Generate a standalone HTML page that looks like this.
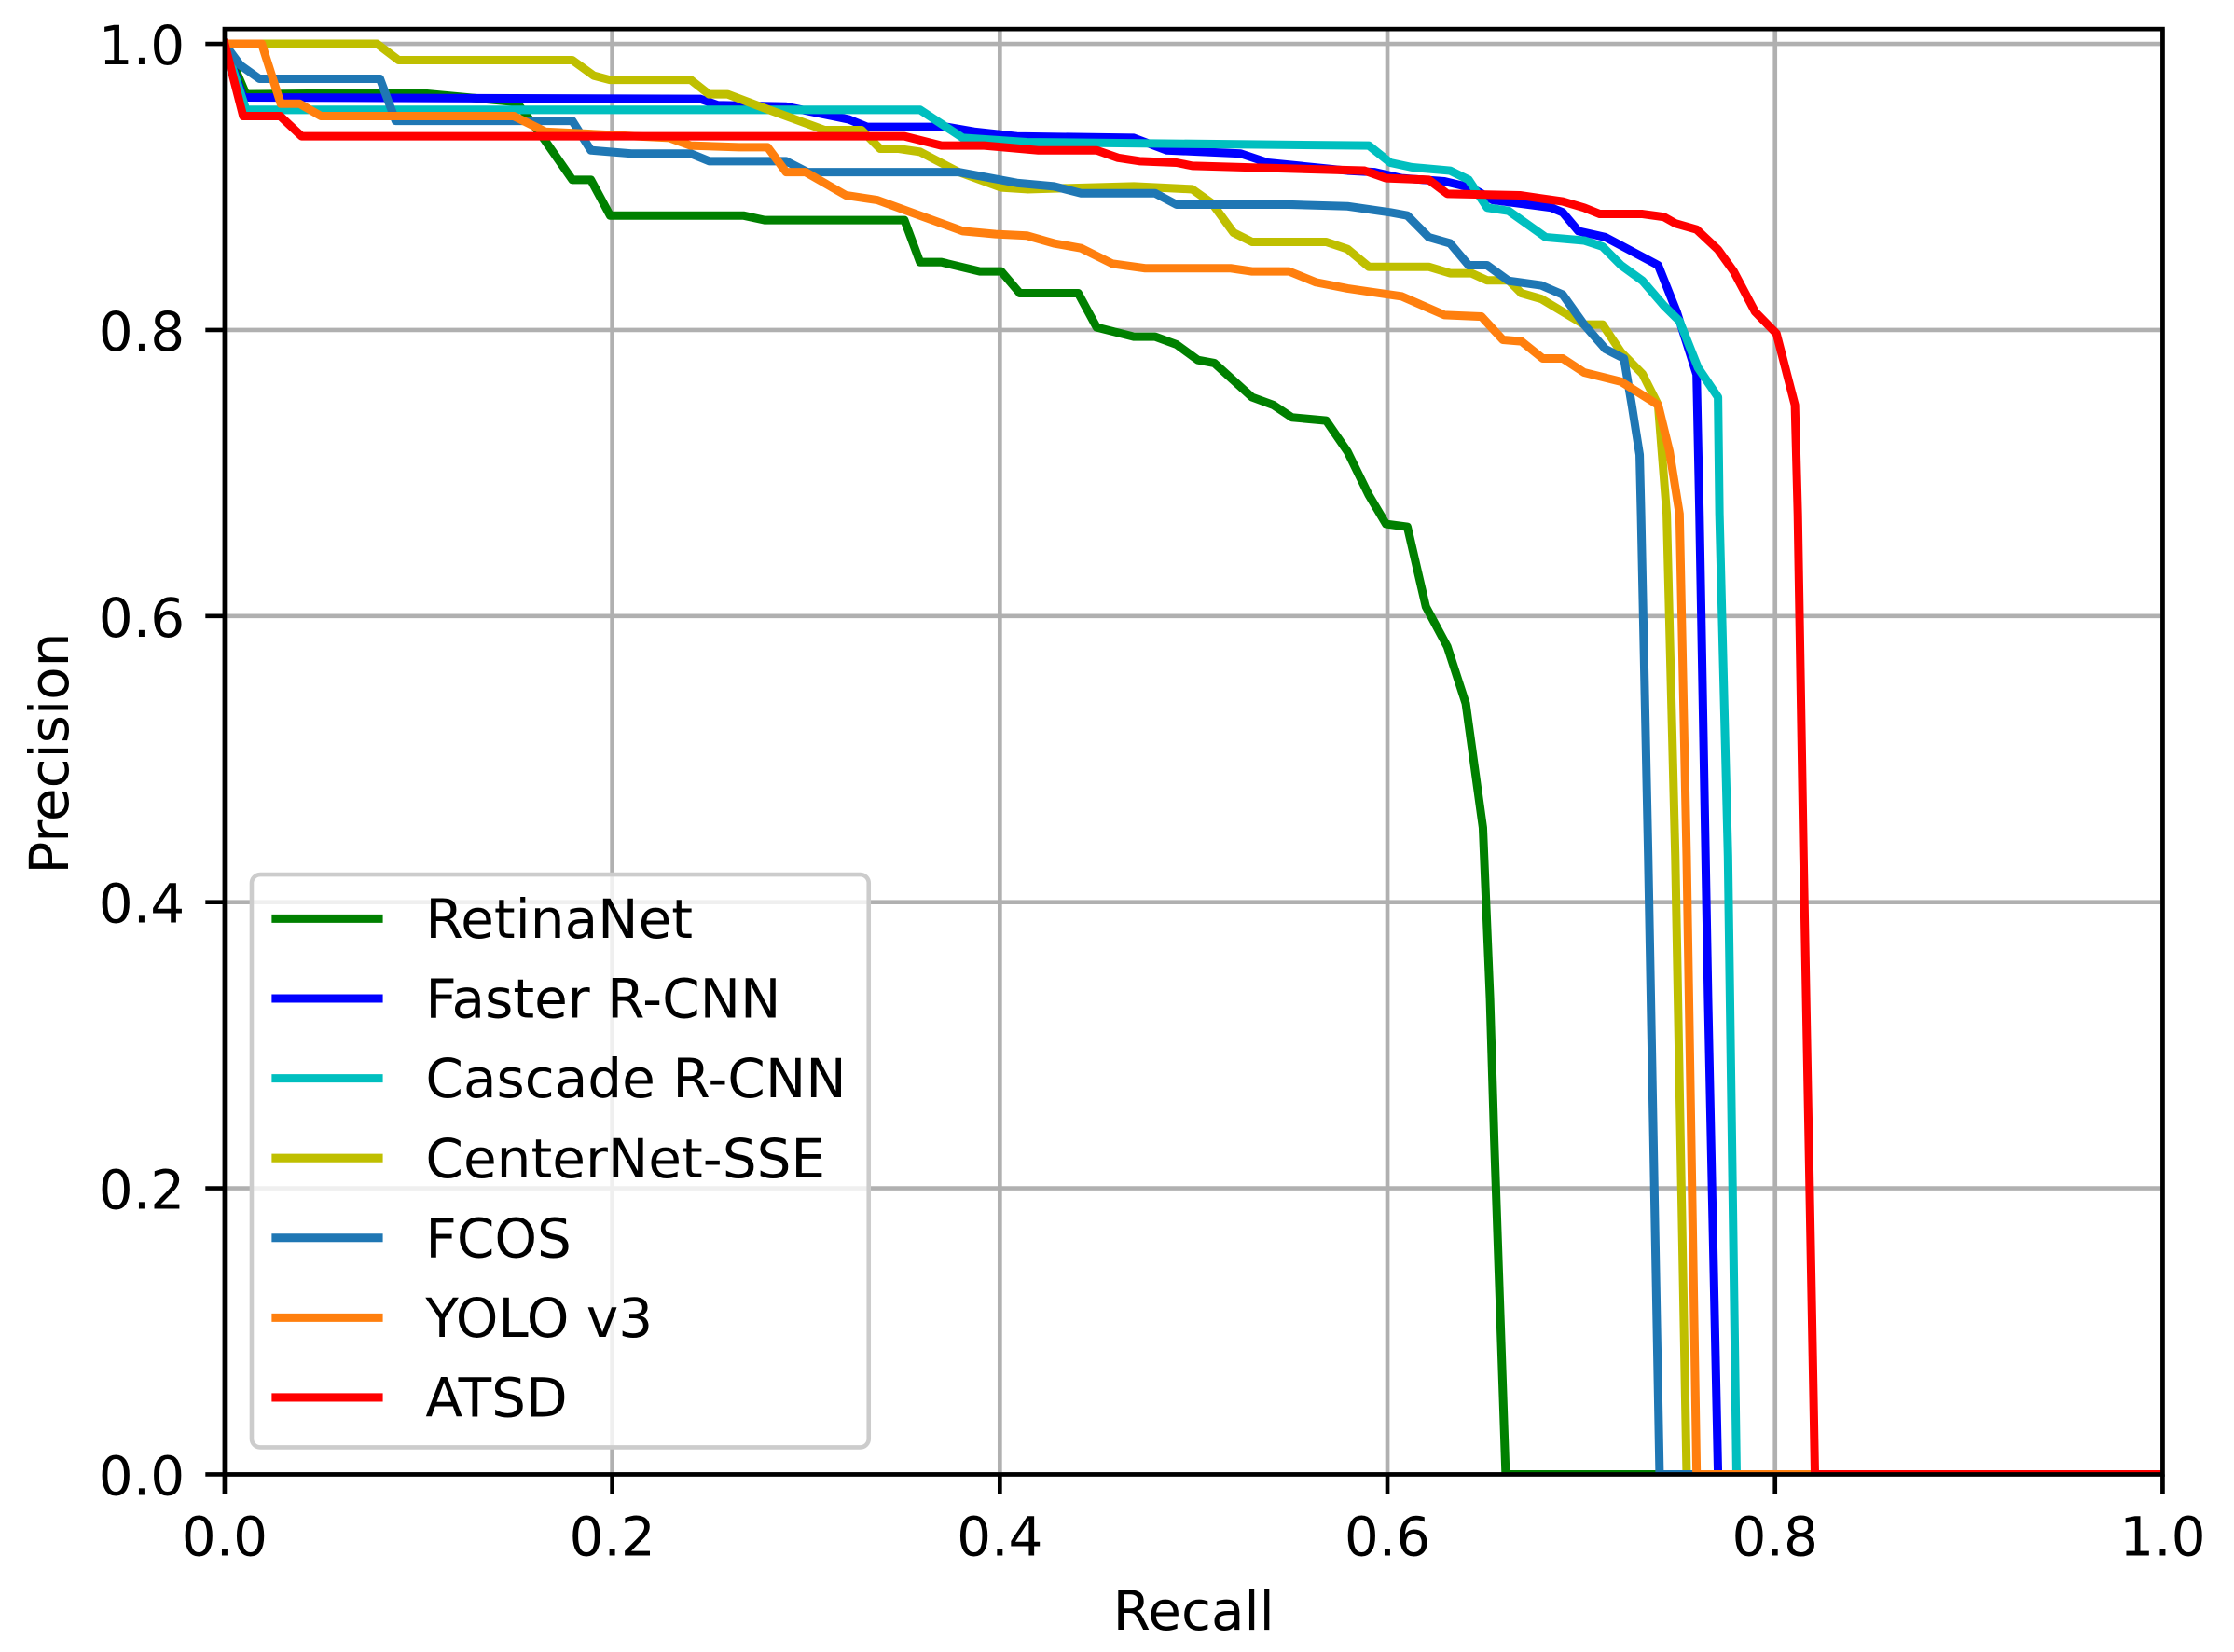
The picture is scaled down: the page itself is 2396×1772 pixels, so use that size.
<!DOCTYPE html>
<html><head><meta charset="utf-8"><style>
html,body{margin:0;padding:0;background:#fff;}
svg{display:block;}
text{font-family:"DejaVu Sans","Liberation Sans",sans-serif;font-size:38px;fill:#000;}
</style></head><body>
<svg width="2396" height="1772" viewBox="0 0 2396 1772" xmlns="http://www.w3.org/2000/svg">
<rect width="2396" height="1772" fill="#fff"/>
<g transform="translate(1,1.2) scale(1.5283)">
<defs><clipPath id="c"><rect x="157" y="19.6" width="1360" height="1014.4"/></clipPath></defs>
<g stroke="#b0b0b0" stroke-width="3.07" fill="none">
<path d="M157 19.6V1034M429 19.6V1034M701 19.6V1034M973 19.6V1034M1245 19.6V1034M1517 19.6V1034"/>
<path d="M157 1034H1517M157 833.2H1517M157 632.4H1517M157 431.6H1517M157 230.8H1517M157 30H1517"/>
</g>
<g clip-path="url(#c)" fill="none" stroke-width="5.9" stroke-linejoin="round" stroke-linecap="square">
<polyline stroke="#008000" points="157,30 172,65.4 292,64.3 362,70.9 382,98.1 401,125.4 414,125.4 427.5,150.5 521,150.5 536,153.7 634,153.7 645,183.2 660,183.2 687,189.7 702,189.7 715,205 756,205 769,229 795,235.5 810,235.5 825,241 840,251.9 851.5,254 878,278 893,283.5 906,292.2 930,294.4 945,316.2 960,346.8 972,367 987,369 1000,425 1015,453 1028,493 1040,580 1045,700 1048,800 1056,1034 1517,1034"/>
<polyline stroke="#0000ff" points="157,30 170,67.6 491,68.7 503,73 551,74 595,83 608,88.3 664,88.3 683,91.6 713,94.9 795,96 818,104.7 870,107 889,113.4 945,119 964,120 983,124.3 1013,126.5 1032,131 1047,139.6 1088,145 1096,148.3 1107,161.4 1126,165.7 1163,185.4 1176,218 1190,262 1192,360 1198,700 1205,1034 1517,1034"/>
<polyline stroke="#00bfbf" points="157,30 172,76.3 645,76.3 675,96 720,99 960,101.4 975,113.4 990,116.6 1017,119 1030,125.4 1043,145 1058,147.2 1084,165.7 1111,168 1124,172.3 1137,185.4 1152,196.3 1167,213.7 1178,224.6 1191,257.3 1205,278 1206,360 1212,600 1218,1034 1517,1034"/>
<polyline stroke="#bfbf00" points="157,30 264,30 279,41.4 401,41.4 416,52.3 427,55.2 484,55.2 497,65.4 510,65.4 536,75.2 578,90.5 604,90.5 617,103.6 630,103.6 645,105.8 672,119.9 702,130.8 720,132 795,130 836,132 850,142 865,162.5 878,169 930,169 945,174 960,186.5 1002,186.5 1017,191 1032,191 1043,196 1058,196 1067,205 1081,209 1096,218 1111,227 1124,227 1137,246.4 1152,261.7 1163,283.5 1169,360 1175,600 1183,1034 1517,1034"/>
<polyline stroke="#1f77b4" points="157,30 168,45 181.4,54.5 266,54.5 277,84 401,84 414,104.7 442.5,107 484,107 497,112.3 551,112.3 566,120 672,120 713,127.6 739,130 758,134.8 810,134.8 825,142.8 904,142.8 945,144 975,148.3 987,150.5 1002,165.7 1017,170 1030,185.4 1043,185.4 1058,196.3 1081,199.5 1096,206 1111,227 1126,244.2 1139,250.8 1144.5,283.5 1150,318.4 1151,360 1156,600 1164,1034 1517,1034"/>
<polyline stroke="#ff7f0e" points="157,30 183,30 196.4,72 209.6,72 224.6,80.7 360,80.7 382,91.6 469,96 484,101.4 518,102.5 538,102.5 551,120 564.6,120 593,136.3 615,139.6 645,150.5 675,161.4 698,163.5 720,164.6 739,170 758,173.4 780,184.3 803,187.5 863,187.5 878,189.7 904,189.7 923,197.4 945,201.7 960,203.9 983,207.2 1013,220.3 1039,221.4 1054,237.7 1067,238.8 1082,250.8 1096,250.8 1111,260.6 1137,267.1 1163,283.5 1171,316.2 1178,360 1183,600 1190,1034 1517,1034"/>
<polyline stroke="#ff0000" points="157,30 170,80.7 196,80.7 211,94.8 634,94.8 660,101.4 690,101.4 728,104.7 769,104.7 784,110 799,112.3 825,113.4 836,115.6 870,116.6 957,119 972,124.3 1002,125.4 1015,135.2 1066,136.3 1081,138.5 1096,140.6 1111,145 1122,149.4 1152,149.4 1167,151.5 1175,156 1190,160.3 1205,174.4 1216,189.7 1231,218 1246,233.3 1259,283.5 1261,360 1265,600 1273,1034 1517,1034"/>
</g>
<rect x="157" y="19.6" width="1360" height="1014.4" fill="none" stroke="#000" stroke-width="3.07"/>
<g stroke="#000" stroke-width="3.07">
<path d="M157 1034v13.5M429 1034v13.5M701 1034v13.5M973 1034v13.5M1245 1034v13.5M1517 1034v13.5"/>
<path d="M157 1034h-13.5M157 833.2h-13.5M157 632.4h-13.5M157 431.6h-13.5M157 230.8h-13.5M157 30h-13.5"/>
</g>
<g text-anchor="middle">
<text x="157" y="1091">0.0</text><text x="429" y="1091">0.2</text><text x="701" y="1091">0.4</text>
<text x="973" y="1091">0.6</text><text x="1245" y="1091">0.8</text><text x="1517" y="1091">1.0</text>
</g>
<g text-anchor="end">
<text x="129" y="1048.4">0.0</text><text x="129" y="847.6">0.2</text><text x="129" y="646.8">0.4</text>
<text x="129" y="446">0.6</text><text x="129" y="245.2">0.8</text><text x="129" y="44.4">1.0</text>
</g>
<text x="837" y="1143" text-anchor="middle">Recall</text>
<text transform="translate(47,528) rotate(-90)" text-anchor="middle">Precision</text>
<rect x="176" y="613" width="433" height="402" rx="6" fill="#fff" fill-opacity="0.8" stroke="#cccccc" stroke-width="3"/>
<g stroke-width="5.9">
<line x1="190" y1="644" x2="268" y2="644" stroke="#008000"/>
<line x1="190" y1="700" x2="268" y2="700" stroke="#0000ff"/>
<line x1="190" y1="756" x2="268" y2="756" stroke="#00bfbf"/>
<line x1="190" y1="812" x2="268" y2="812" stroke="#bfbf00"/>
<line x1="190" y1="868" x2="268" y2="868" stroke="#1f77b4"/>
<line x1="190" y1="924" x2="268" y2="924" stroke="#ff7f0e"/>
<line x1="190" y1="980" x2="268" y2="980" stroke="#ff0000"/>
</g>
<text x="298" y="657.5">RetinaNet</text>
<text x="298" y="713.5">Faster R-CNN</text>
<text x="298" y="769.5">Cascade R-CNN</text>
<text x="298" y="825.5">CenterNet-SSE</text>
<text x="298" y="881.5">FCOS</text>
<text x="298" y="937.5">YOLO v3</text>
<text x="298" y="993.5">ATSD</text>
</g>
</svg>
</body></html>
